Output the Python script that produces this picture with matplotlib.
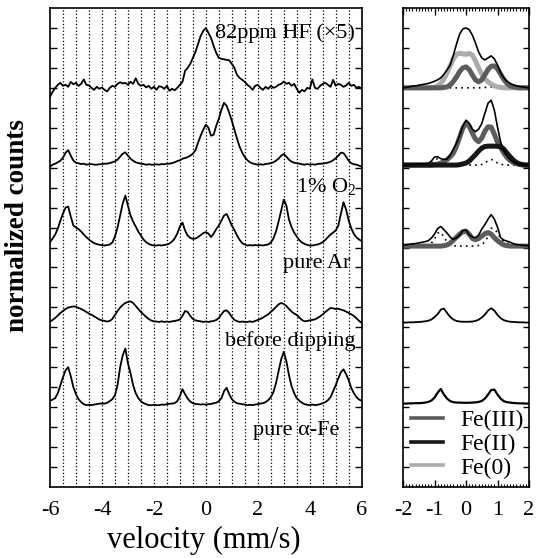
import numpy as np
import matplotlib

matplotlib.use("Agg")

import matplotlib.pyplot as plt
from matplotlib.lines import Line2D
from matplotlib.ticker import MultipleLocator

plt.rcParams["font.family"] = "serif"
plt.rcParams["font.serif"] = ["Liberation Serif", "DejaVu Serif"]
plt.rcParams["mathtext.fontset"] = "custom"
plt.rcParams["mathtext.rm"] = "Liberation Serif"
plt.rcParams["axes.unicode_minus"] = False

# ==========================
# LEFT PANEL: full spectra
# ==========================
# velocity channels -6.0 ... 6.0 mm/s, step 0.1
velocity = np.round(np.linspace(-6.0, 6.0, 121), 1)

# counts above each baseline (1 unit = one y tick)
hf_82ppm = [
    -0.45, -0.2, 0.0, 0.15, 0.25, 0.1, 0.15, 0.05, 0.3, 0.18,
    0.25, 0.1, 0.2, 0.42, 0.15, 0.12, 0.0, -0.1, 0.05, -0.05,
    0.02, -0.1, -0.18, 0.0, 0.1, 0.05, 0.2, 0.28, 0.22, 0.25,
    0.15, 0.3, 0.2, 0.48, 0.2, 0.1, 0.15, 0.02, 0.1, -0.05,
    0.05, -0.1, 0.08, 0.05, -0.05, 0.1, -0.15, -0.05, -0.12, 0.0,
    0.15, 0.3, 0.85, 1.0, 1.2, 1.5, 1.8, 2.2, 2.6, 2.85,
    3.0, 2.75, 2.5, 2.1, 1.75, 1.5, 1.45, 1.43, 1.4, 1.38,
    1.2, 1.0, 0.65, 0.5, 0.4, 0.3, 0.15, 0.05, -0.1, 0.1,
    0.15, 0.0, -0.1, 0.05, -0.05, 0.1, 0.0, 0.05, 0.15, 0.2,
    0.32, 0.2, 0.25, 0.1, 0.2, -0.05, -0.25, -0.1, -0.18, 0.0,
    -0.05, 0.42, 0.0, -0.05, 0.1, 0.2, 0.25, 0.15, 0.05, 0.4,
    0.1, 0.2, 0.15, 0.05, 0.12, 0.25, 0.1, 0.15, 0.0, 0.05,
    -0.05,
]
o2_1pct = [
    -0.1, 0.0, 0.05, 0.12, 0.2, 0.35, 0.6, 0.73, 0.45, 0.2,
    0.1, 0.07, 0.03, 0.05, 0.0, 0.02, 0.03, 0.0, 0.0, 0.02,
    0.03, 0.05, 0.05, 0.08, 0.12, 0.17, 0.25, 0.4, 0.55, 0.62,
    0.45, 0.3, 0.2, 0.12, 0.08, 0.05, 0.03, 0.0, 0.02, 0.0,
    0.0, 0.02, 0.0, 0.03, 0.02, 0.05, 0.05, 0.08, 0.12, 0.18,
    0.22, 0.3, 0.33, 0.38, 0.45, 0.55, 0.72, 1.1, 1.45, 1.75,
    2.0, 1.85, 1.45, 1.5, 1.95, 2.3, 2.75, 3.1, 2.95, 2.6,
    2.2, 1.75, 1.3, 0.9, 0.6, 0.38, 0.22, 0.12, 0.06, 0.03,
    0.0, 0.02, 0.0, 0.03, 0.05, 0.08, 0.12, 0.2, 0.3, 0.45,
    0.53, 0.4, 0.25, 0.15, 0.1, 0.07, 0.05, 0.02, 0.0, 0.03,
    0.0, 0.02, 0.0, 0.03, 0.05, 0.05, 0.08, 0.1, 0.15, 0.22,
    0.32, 0.45, 0.6, 0.58, 0.4, 0.2, 0.07, 0.02, 0.0, -0.05,
    -0.1,
]
pure_ar = [
    0.17, 0.35, 0.55, 0.85, 1.25, 1.6, 1.9, 1.95, 1.45, 1.0,
    0.9, 0.82, 0.7, 0.55, 0.42, 0.3, 0.2, 0.12, 0.07, 0.04,
    0.02, 0.0, 0.02, 0.05, 0.15, 0.45, 0.9, 1.5, 2.1, 2.5,
    2.0, 1.5, 1.2, 0.95, 0.7, 0.5, 0.3, 0.17, 0.08, 0.03,
    0.0, 0.0, 0.02, 0.0, 0.03, 0.05, 0.1, 0.2, 0.35, 0.6,
    0.95, 1.15, 0.75, 0.5, 0.38, 0.33, 0.35, 0.42, 0.52, 0.62,
    0.67, 0.6, 0.42, 0.6, 0.82, 1.0, 1.25, 1.5, 1.58, 1.3,
    1.0, 0.78, 0.5, 0.28, 0.12, 0.05, 0.0, 0.02, 0.0, 0.03,
    0.0, 0.02, 0.0, 0.03, 0.05, 0.15, 0.35, 0.7, 1.2, 1.75,
    2.3, 2.0, 1.3, 0.92, 0.65, 0.45, 0.27, 0.15, 0.08, 0.03,
    0.0, 0.0, 0.03, 0.05, 0.1, 0.17, 0.28, 0.42, 0.55, 0.65,
    0.75, 1.0, 1.6, 2.17, 1.8, 1.25, 0.85, 0.58, 0.4, 0.3,
    0.22,
]
before_dipping = [
    0.02, 0.1, 0.2, 0.32, 0.45, 0.55, 0.65, 0.72, 0.75, 0.78,
    0.76, 0.7, 0.65, 0.58, 0.5, 0.42, 0.36, 0.28, 0.2, 0.12,
    0.08, 0.05, 0.02, 0.05, 0.15, 0.35, 0.55, 0.72, 0.85, 0.95,
    1.0, 1.03, 0.95, 0.8, 0.65, 0.5, 0.38, 0.25, 0.15, 0.07,
    0.03, 0.02, 0.0, 0.03, 0.0, 0.02, 0.0, 0.03, 0.05, 0.08,
    0.12, 0.3, 0.55, 0.5, 0.3, 0.15, 0.08, 0.05, 0.03, 0.0,
    0.02, 0.0, 0.03, 0.05, 0.1, 0.2, 0.38, 0.55, 0.58, 0.45,
    0.25, 0.1, 0.04, 0.0, 0.02, 0.0, 0.0, 0.03, 0.0, 0.05,
    0.1, 0.15, 0.22, 0.3, 0.38, 0.5, 0.62, 0.75, 0.88, 0.95,
    0.9, 0.8, 0.65, 0.52, 0.42, 0.35, 0.22, 0.1, 0.03, 0.05,
    0.08, 0.1, 0.13, 0.2, 0.28, 0.38, 0.5, 0.6, 0.7, 0.68,
    0.65, 0.66, 0.62, 0.58, 0.52, 0.45, 0.38, 0.3, 0.18, 0.05,
    -0.05,
]
alpha_fe = [
    0.22, 0.28, 0.35, 0.6, 1.0, 1.4, 1.75, 1.9, 1.45, 0.9,
    0.55, 0.3, 0.15, 0.05, 0.0, 0.02, 0.0, 0.03, 0.05, 0.08,
    0.08, 0.08, 0.12, 0.2, 0.3, 0.5, 1.0, 1.9, 2.5, 2.84,
    2.1, 1.6, 1.0, 0.6, 0.35, 0.2, 0.1, 0.05, 0.0, 0.0,
    0.02, 0.0, 0.0, 0.03, 0.02, 0.05, 0.07, 0.08, 0.1, 0.2,
    0.45, 0.8, 0.55, 0.33, 0.18, 0.1, 0.06, 0.05, 0.03, 0.05,
    0.02, 0.05, 0.06, 0.1, 0.12, 0.2, 0.35, 0.7, 0.87, 0.55,
    0.3, 0.17, 0.1, 0.07, 0.05, 0.03, 0.0, 0.02, 0.0, 0.03,
    0.05, 0.08, 0.1, 0.15, 0.25, 0.4, 0.65, 1.1, 1.7, 2.3,
    2.67, 2.2, 1.5, 0.95, 0.6, 0.35, 0.22, 0.12, 0.05, 0.02,
    0.0, 0.03, 0.0, 0.02, 0.05, 0.1, 0.15, 0.25, 0.4, 0.7,
    1.0, 1.35, 1.65, 1.8, 1.55, 1.25, 0.85, 0.6, 0.4, 0.28,
    0.22,
]
left_traces = [hf_82ppm, o2_1pct, pure_ar, before_dipping, alpha_fe]
left_offsets = [20.0, 16.15, 12.1, 8.27, 4.1]

# ==========================
# RIGHT PANEL: fitted centre
# ==========================
vel_zoom = np.round(np.linspace(-2.0, 2.0, 41), 1)
Z10 = [0.0] * 10

s1_total = [0.0, 0.02, 0.05, 0.08, 0.1, 0.13, 0.16, 0.19, 0.22, 0.27,
            0.33, 0.4, 0.5, 0.68, 0.9, 1.15, 1.65, 2.2, 2.7, 2.95,
            3.0, 2.92, 2.65, 2.25, 1.8, 1.5, 1.4, 1.5, 1.6, 1.45,
            1.15, 0.75, 0.5, 0.33, 0.22, 0.15, 0.1, 0.07, 0.04, 0.02,
            0.0]
s1_fe0 = Z10 + [0.02, 0.1, 0.22, 0.45, 0.75, 1.1, 1.45, 1.68, 1.73, 1.7,
                1.68, 1.72, 1.65, 1.35, 1.0, 0.68, 0.45, 0.3, 0.18, 0.1,
                0.05, 0.02, 0.0, 0.0, 0.0, 0.0, 0.0, 0.0, 0.0, 0.0,
                0.0]
s1_fe3 = Z10 + [0.0, 0.0, 0.0, 0.02, 0.05, 0.15, 0.32, 0.55, 0.82, 1.0,
                1.05, 0.92, 0.65, 0.4, 0.3, 0.4, 0.65, 0.92, 1.08, 1.1,
                0.95, 0.68, 0.42, 0.22, 0.1, 0.05, 0.02, 0.0, 0.0, 0.0,
                0.0]
s1_dot = Z10 + [0.0, 0.02, 0.03, 0.02, 0.0, 0.0, 0.0, 0.0, 0.0, 0.0,
                0.0, 0.0, 0.0, 0.0, 0.0, 0.0, 0.02, 0.03, 0.05, 0.03,
                0.02, 0.0, 0.0, 0.0, 0.0, 0.0, 0.0, 0.0, 0.0, 0.0,
                0.0]

s2_total = [0.0, 0.0, 0.02, 0.03, 0.04, 0.05, 0.06, 0.07, 0.08, 0.2,
            0.4, 0.42, 0.32, 0.28, 0.3, 0.5, 0.8, 1.1, 1.5, 1.95,
            2.25, 2.1, 1.8, 1.67, 1.8, 2.08, 2.6, 3.1, 3.25, 2.75,
            1.9, 1.15, 0.72, 0.45, 0.28, 0.15, 0.09, 0.05, 0.03, 0.01,
            0.0]
s2_fe3 = Z10 + [0.02, 0.05, 0.1, 0.17, 0.27, 0.42, 0.6, 0.95, 1.4, 1.85,
                2.1, 1.95, 1.6, 1.3, 1.17, 1.35, 1.7, 1.92, 1.9, 1.55,
                1.15, 0.88, 0.6, 0.38, 0.23, 0.13, 0.07, 0.03, 0.0, 0.0,
                0.0]
s2_fe2 = Z10 + [0.0, 0.0, 0.0, 0.0, 0.0, 0.0, 0.0, 0.0, 0.02, 0.06,
                0.1, 0.2, 0.36, 0.52, 0.7, 0.85, 0.93, 0.95, 0.95, 0.95,
                0.94, 0.92, 0.8, 0.6, 0.42, 0.25, 0.13, 0.06, 0.02, 0.0,
                0.0]
s2_dot = [0.0, 0.0, 0.0, 0.0, 0.0, 0.0, 0.0, 0.0, 0.02, 0.08,
          0.2, 0.33, 0.25, 0.1, 0.04, 0.02, 0.0, 0.0, 0.0, 0.0,
          0.0, 0.0, 0.0, 0.0, 0.0, 0.03, 0.1, 0.22, 0.28, 0.22,
          0.1, 0.04, 0.02, 0.0, 0.0, 0.0, 0.0, 0.0, 0.0, 0.0,
          0.0]

s3_total = [0.05, 0.07, 0.09, 0.11, 0.13, 0.16, 0.19, 0.22, 0.27, 0.4,
            0.6, 0.88, 0.98, 0.82, 0.65, 0.45, 0.33, 0.42, 0.55, 0.78,
            0.8, 0.58, 0.45, 0.42, 0.55, 0.85, 1.08, 1.35, 1.58, 1.35,
            0.95, 0.42, 0.3, 0.25, 0.2, 0.12, 0.08, 0.06, 0.04, 0.03,
            0.02]
s3_fe3 = Z10 + [0.0, 0.0, 0.0, 0.02, 0.06, 0.15, 0.3, 0.45, 0.6, 0.72,
                0.75, 0.6, 0.38, 0.32, 0.38, 0.5, 0.62, 0.68, 0.6, 0.42,
                0.27, 0.15, 0.06, 0.02, 0.0, 0.0, 0.0, 0.0, 0.0, 0.0,
                0.0]
s3_dot = [0.0, 0.0, 0.0, 0.0, 0.0, 0.0, 0.0, 0.0, 0.05, 0.15,
          0.35, 0.65, 0.7, 0.45, 0.2, 0.08, 0.03, 0.0, 0.0, 0.0,
          0.0, 0.0, 0.0, 0.0, 0.03, 0.08, 0.2, 0.5, 0.9, 0.85,
          0.68, 0.35, 0.22, 0.15, 0.1, 0.05, 0.02, 0.0, 0.0, 0.0,
          0.0]

s4_total = [0.0, 0.0, 0.01, 0.01, 0.02, 0.03, 0.04, 0.06, 0.09, 0.15,
            0.27, 0.42, 0.65, 0.7, 0.48, 0.28, 0.15, 0.08, 0.05, 0.04,
            0.04, 0.04, 0.05, 0.08, 0.14, 0.25, 0.4, 0.6, 0.72, 0.6,
            0.38, 0.22, 0.12, 0.07, 0.04, 0.03, 0.02, 0.01, 0.01, 0.0,
            0.0]
s5_total = [0.0, 0.0, 0.01, 0.01, 0.02, 0.02, 0.03, 0.05, 0.08, 0.15,
            0.3, 0.55, 0.73, 0.45, 0.25, 0.12, 0.07, 0.05, 0.05, 0.04,
            0.04, 0.04, 0.05, 0.06, 0.08, 0.13, 0.25, 0.45, 0.68, 0.7,
            0.45, 0.25, 0.12, 0.07, 0.05, 0.03, 0.02, 0.01, 0.01, 0.0,
            0.0]
right_offsets = [20.0, 16.13, 12.07, 8.24, 4.18]

labels = ["82ppm HF (×5)", "1% O$_2$", "pure Ar", "before dipping", "pure α-Fe"]
label_pos = [(0.34, 22.5), (3.47, 14.75), (2.97, 10.95), (0.74, 7.05), (1.82, 2.6)]

x_ticks_left = [-6, -4, -2, 0, 2, 4, 6]
x_ticks_right = [-2, -1, 0, 1, 2]

C_FE3 = "#5c5c5c"
C_FE2 = "#161616"
C_FE0 = "#ababab"

# ========
# FIGURE
# ========
fig = plt.figure(figsize=(5.38, 5.58), dpi=100)
ax = fig.add_axes([50 / 538, 71 / 558, 311.7 / 538, 479 / 558])
axr = fig.add_axes([403 / 538, 71 / 558, 126 / 538, 479 / 558])

# dotted guide lines every 0.5 mm/s
for gx in np.arange(-5.5, 5.6, 0.5):
    ax.axvline(gx, color="black", lw=0.9, ls=(0, (1.0, 1.7)), zorder=1)

for off, vals in zip(left_offsets, left_traces):
    ax.plot(velocity, off + np.array(vals), color="black", lw=1.3, zorder=3)

for txt, (tx, ty) in zip(labels, label_pos):
    ax.text(tx, ty, txt, fontsize=16, ha="left", va="baseline",
            clip_on=False, zorder=4)

ax.set_xlim(-6, 6)
ax.set_ylim(0, 24)
ax.set_xticks(x_ticks_left)
ax.set_xticklabels([str(t) for t in x_ticks_left])
ax.set_yticks(range(1, 24))
ax.set_yticklabels([])
ax.tick_params(axis="x", length=0, pad=10, labelsize=16)
ax.tick_params(axis="y", direction="in", left=True, right=True,
               length=5, width=1)
for sp in ax.spines.values():
    sp.set_linewidth(1.2)

# right panel: components (thick) + total (thin)
o = right_offsets
axr.plot(vel_zoom, o[0] + np.array(s1_dot), color="black", lw=1.2, ls=(0, (1, 2.5)), zorder=1)
axr.plot(vel_zoom, o[0] + np.array(s1_fe0), color=C_FE0, lw=3.6, solid_capstyle="butt", zorder=2)
axr.plot(vel_zoom, o[0] + np.array(s1_fe3), color=C_FE3, lw=3.6, solid_capstyle="butt", zorder=2)
axr.plot(vel_zoom, o[0] + np.array(s1_total), color="black", lw=1.2, zorder=4)

axr.plot(vel_zoom, o[1] + np.array(s2_dot), color="black", lw=1.2, ls=(0, (1, 2.5)), zorder=1)
axr.plot(vel_zoom, o[1] + np.array(s2_fe3), color=C_FE3, lw=3.6, solid_capstyle="butt", zorder=2)
axr.plot(vel_zoom, o[1] + np.array(s2_fe2), color=C_FE2, lw=3.6, solid_capstyle="butt", zorder=3)
axr.plot(vel_zoom, o[1] + np.array(s2_total), color="black", lw=1.2, zorder=4)

axr.plot(vel_zoom, o[2] + np.array(s3_dot), color="black", lw=1.2, ls=(0, (1, 2.5)), zorder=1)
axr.plot(vel_zoom, o[2] + np.array(s3_fe3), color=C_FE3, lw=3.6, solid_capstyle="butt", zorder=2)
axr.plot(vel_zoom, o[2] + np.array(s3_total), color="black", lw=1.2, zorder=4)

axr.plot(vel_zoom, o[3] + np.array(s4_total), color="black", lw=1.3, zorder=4)
axr.plot(vel_zoom, o[4] + np.array(s5_total), color="black", lw=1.6, zorder=4)

handles = [Line2D([], [], color=C_FE3, lw=2.6),
           Line2D([], [], color=C_FE2, lw=2.6),
           Line2D([], [], color=C_FE0, lw=2.6)]
axr.legend(handles, ["Fe(III)", "Fe(II)", "Fe(0)"], loc="lower right",
           bbox_to_anchor=(1.02, 0.0), frameon=False, fontsize=17,
           handlelength=1.35, handletextpad=0.7, labelspacing=0.1,
           borderaxespad=0.15, borderpad=0.2)

axr.set_xlim(-2, 2)
axr.set_ylim(0, 24)
axr.set_xticks(x_ticks_right)
axr.set_xticklabels([str(t) for t in x_ticks_right])
axr.xaxis.set_minor_locator(MultipleLocator(0.1))
axr.set_yticks(range(1, 24))
axr.set_yticklabels([])
axr.tick_params(axis="x", which="major", direction="in", top=True, bottom=True,
                length=5, width=1, pad=10, labelsize=16)
axr.tick_params(axis="x", which="minor", direction="in", top=True, bottom=True,
                length=2.5, width=0.8)
axr.tick_params(axis="y", direction="in", left=True, right=True,
                length=4, width=1)
for sp in axr.spines.values():
    sp.set_linewidth(1.2)

fig.text(18 / 538, 1 - 226 / 558, "normalized counts", rotation=90,
         ha="center", va="center", fontsize=19.5, fontweight="bold")
fig.text(204 / 538, 1 - 548 / 558, "velocity (mm/s)", ha="center",
         va="baseline", fontsize=22)

fig.savefig("out.png", dpi=100)
